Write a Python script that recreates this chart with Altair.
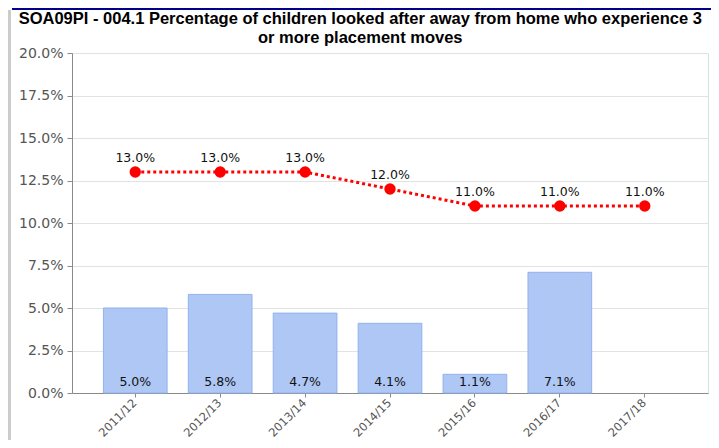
import altair as alt
import pandas as pd

categories = ["2011/12", "2012/13", "2013/14", "2014/15", "2015/16", "2016/17", "2017/18"]
bar_categories = ["2011/12", "2012/13", "2013/14", "2014/15", "2015/16", "2016/17"]
bar_values = [5.0, 5.8, 4.7, 4.1, 1.1, 7.1]
line_values = [13.0, 13.0, 13.0, 12.0, 11.0, 11.0, 11.0]
y_ticks = [0, 2.5, 5, 7.5, 10, 12.5, 15, 17.5, 20]
title_lines = ["SOA09PI - 004.1 Percentage of children looked after away from home who experience 3",
               "or more placement moves"]

bars_df = pd.DataFrame({"cat": bar_categories, "val": bar_values})
bars_df["lbl"] = [f"{v:.1f}%" for v in bar_values]
line_df = pd.DataFrame({"cat": categories, "val": line_values})
line_df["lbl"] = [f"{v:.1f}%" for v in line_values]

xscale = alt.Scale(domain=categories, paddingInner=0.25, paddingOuter=0.37)
yscale = alt.Scale(domain=[0, 20], nice=False)

x_enc = alt.X("cat:N", scale=xscale, sort=categories, title=None,
              axis=alt.Axis(labelAngle=-45, labelAlign="right", labelBaseline="middle",
                            labelFontSize=11.5, labelColor="#555555", labelFont="DejaVu Sans",
                            domainColor="#8a8a8a", tickColor="#8a8a8a", tickSize=4,
                            labelPadding=4, grid=False))
y_enc = alt.Y("val:Q", scale=yscale, title=None,
              axis=alt.Axis(values=y_ticks, labelExpr="format(datum.value, '.1f') + '%'",
                            labelFontSize=14, labelColor="#555555", labelFont="DejaVu Sans",
                            domainColor="#8a8a8a", tickColor="#8a8a8a", tickSize=5,
                            labelPadding=4, gridColor="#e2e2e2", grid=True))

bars = alt.Chart(bars_df).mark_bar(color="#aec7f4", stroke="#8fb2ee", strokeWidth=1).encode(
    x=x_enc, y=y_enc)

bar_labels = alt.Chart(bars_df).mark_text(dy=-11, baseline="middle", fontSize=12.5,
                                          font="DejaVu Sans", color="#111111").encode(
    x=alt.X("cat:N", scale=xscale, sort=categories),
    y=alt.Y("zero:Q", scale=yscale),
    text="lbl:N").transform_calculate(zero="0")

line = alt.Chart(line_df).mark_line(color="#ff0000", strokeWidth=3, strokeDash=[3, 3]).encode(
    x=alt.X("cat:N", scale=xscale, sort=categories),
    y=alt.Y("val:Q", scale=yscale))

points = alt.Chart(line_df).mark_point(filled=True, color="#ff0000", size=130, opacity=1).encode(
    x=alt.X("cat:N", scale=xscale, sort=categories),
    y=alt.Y("val:Q", scale=yscale))

point_labels = alt.Chart(line_df).mark_text(dy=-14, baseline="middle", fontSize=12.5,
                                            font="DejaVu Sans", color="#111111").encode(
    x=alt.X("cat:N", scale=xscale, sort=categories),
    y=alt.Y("val:Q", scale=yscale),
    text="lbl:N")

top_border = alt.Chart(line_df).mark_rule(color="#00008b", strokeWidth=2).encode(
    x=alt.value(-60), x2=alt.value(640), y=alt.value(-44))
left_border = alt.Chart(line_df).mark_rule(color="#cccccc", strokeWidth=3).encode(
    x=alt.value(-63), y=alt.value(-43), y2=alt.value(390))

chart = alt.layer(bars, bar_labels, line, points, point_labels, top_border, left_border).properties(
    width=636, height=340,
    title=alt.TitleParams(title_lines, font="Liberation Sans", fontSize=16.5, fontWeight="bold",
                          color="#000000", anchor="middle", frame="bounds", offset=4,
                          lineHeight=19, dy=42),
    autosize=alt.AutoSizeParams(type="none"),
    padding={"left": 64, "top": 45, "right": 3, "bottom": 47},
).configure_view(stroke=None).configure(background="white")

chart.save("out.html", embed_options={"renderer": "svg", "actions": False})
